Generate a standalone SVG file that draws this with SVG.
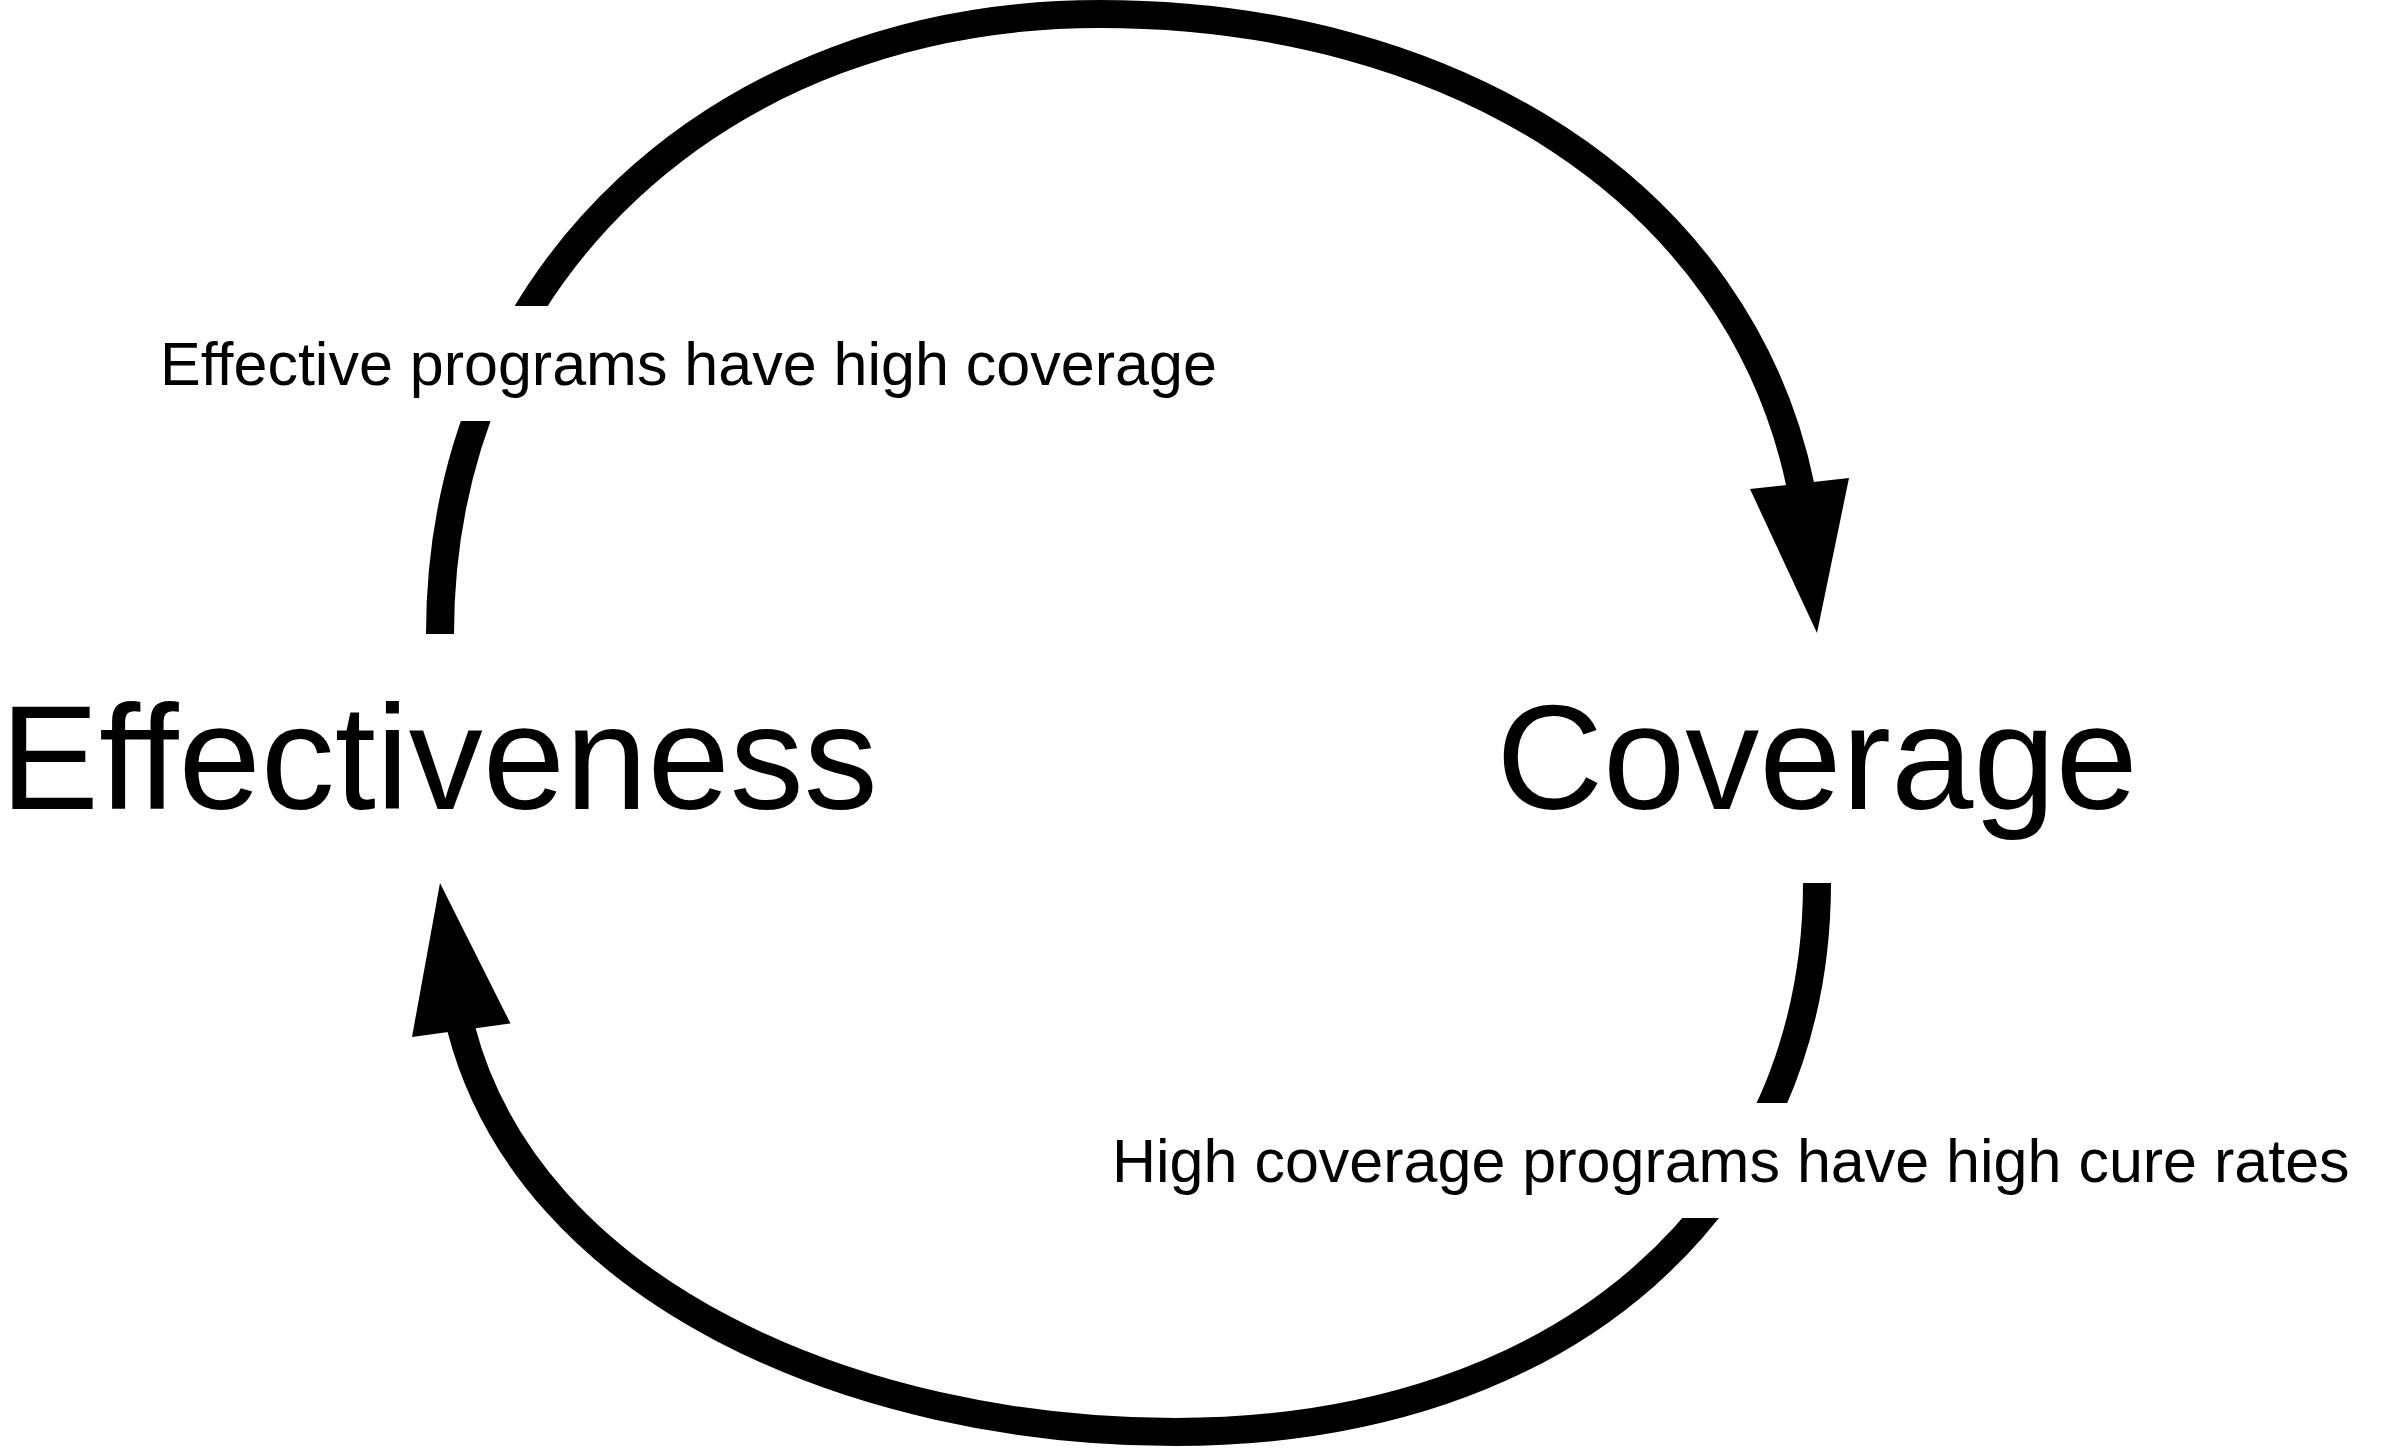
<svg xmlns="http://www.w3.org/2000/svg" width="2400" height="1450" viewBox="0 0 2400 1450">
  <style>
    .edge { fill: none; stroke: #000000; stroke-width: 28; stroke-linecap: butt; }
    .head { fill: #000000; stroke: none; }
    .node-text { font-family: "Liberation Sans", Arial, Helvetica, sans-serif; font-size: 148px; fill: #000000; text-anchor: middle; }
    .label-text { font-family: "Liberation Sans", Arial, Helvetica, sans-serif; font-size: 61px; fill: #000000; }
    .label-bg { fill: #ffffff; stroke: none; }
  </style>
  <rect x="0" y="0" width="2400" height="1450" fill="#ffffff"/>
  <g id="connectors">
    <g id="edge-effectiveness-coverage">
      <path class="edge" d="M440,634 C440,274 720,14 1100,14 C1450,14 1740,190 1801,488"/>
      <polygon class="head" points="1817,633 1750,489 1849,478"/>
    </g>
    <g id="edge-coverage-effectiveness">
      <path class="edge" d="M1817,883 C1817,1200 1570,1432 1175,1432 C855,1432 529.5,1292 461,1028"/>
      <polygon class="head" points="440,883 412,1037 510.5,1023.5"/>
    </g>
  </g>
  <g id="label-effective-programs">
    <rect class="label-bg" x="150" y="306" width="1080" height="115"/>
    <text class="label-text" x="160" y="385">Effective programs have high coverage</text>
  </g>
  <g id="label-high-coverage">
    <rect class="label-bg" x="1100" y="1103" width="1265" height="115"/>
    <text class="label-text" x="1112" y="1182">High coverage programs have high cure rates</text>
  </g>
  <g id="node-effectiveness">
    <text class="node-text" x="439" y="809">Effectiveness</text>
  </g>
  <g id="node-coverage">
    <text class="node-text" x="1817" y="809">Coverage</text>
  </g>
</svg>
